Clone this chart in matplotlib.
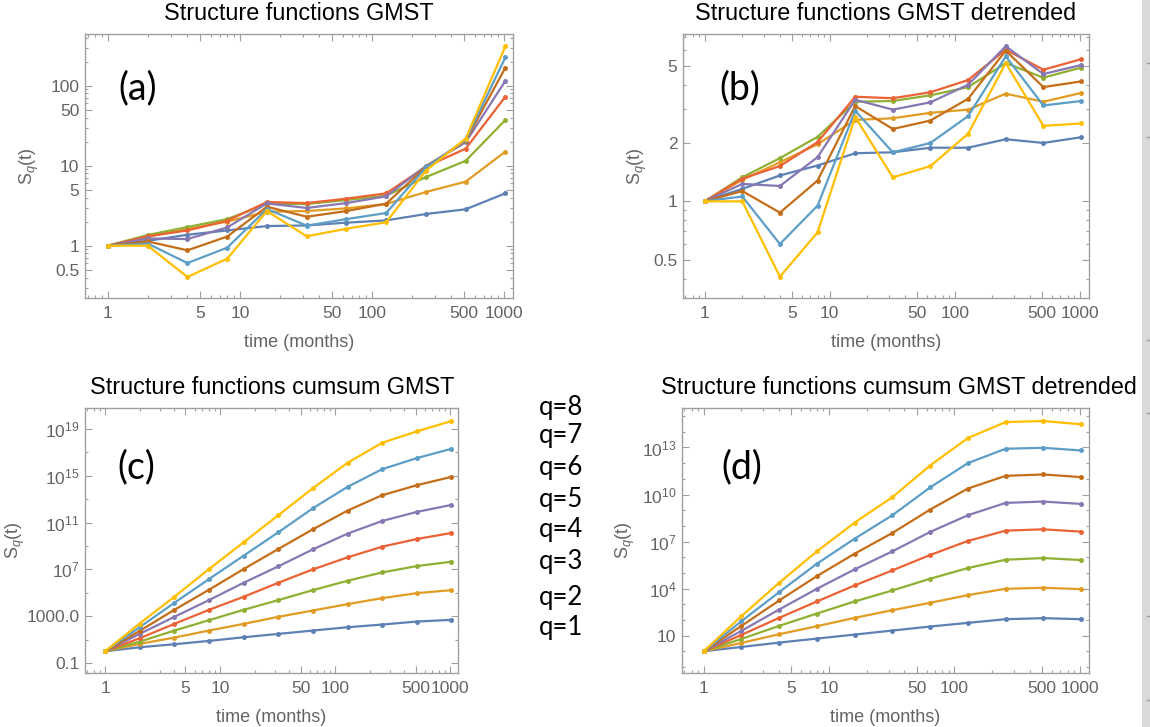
import matplotlib
matplotlib.use("Agg")
import matplotlib.pyplot as plt
import numpy as np
from matplotlib.ticker import FixedLocator, NullFormatter
from matplotlib.patches import Rectangle
from matplotlib.lines import Line2D

plt.rcParams['font.family'] = ['Liberation Sans', 'DejaVu Sans']
plt.rcParams['mathtext.fontset'] = 'custom'
plt.rcParams['mathtext.rm'] = 'Liberation Sans'
plt.rcParams['mathtext.it'] = 'Liberation Sans:italic'

# ---------------- data ----------------
time_months = [1, 2, 4, 8, 16, 32, 64, 128, 256, 512, 1024]
q_labels = ["q=1", "q=2", "q=3", "q=4", "q=5", "q=6", "q=7", "q=8"]
colors = ["#5E81B5", "#E19C24", "#8FB032", "#EB6235",
          "#8778B3", "#C56E1A", "#5D9EC7", "#FFBF00"]

# (a) Structure functions GMST
sf_gmst = [
    [1, 1.15, 1.37, 1.55, 1.76, 1.79, 1.94, 2.07, 2.49, 2.85, 4.51],
    [1, 1.30, 1.61, 2.00, 2.66, 2.71, 2.93, 3.32, 4.69, 6.31, 15.0],
    [1, 1.36, 1.71, 2.15, 3.32, 3.32, 3.72, 4.22, 7.2, 11.5, 37.2],
    [1, 1.31, 1.55, 2.05, 3.51, 3.41, 3.87, 4.51, 9.7, 16.3, 72.9],
    [1, 1.23, 1.21, 1.69, 3.38, 2.96, 3.41, 4.14, 9.9, 19.6, 115],
    [1, 1.13, 0.875, 1.30, 3.07, 2.30, 2.71, 3.35, 9.7, 20.5, 168],
    [1, 1.06, 0.607, 0.944, 2.87, 1.78, 2.15, 2.56, 9.5, 20.9, 226],
    [1, 1.00, 0.406, 0.688, 2.71, 1.31, 1.63, 1.96, 8.66, 21.8, 310],
]
# (b) Structure functions GMST detrended
sf_gmst_detr = [
    [1, 1.16, 1.36, 1.53, 1.77, 1.79, 1.89, 1.89, 2.09, 2.00, 2.14],
    [1, 1.29, 1.59, 1.97, 2.63, 2.68, 2.86, 2.97, 3.59, 3.26, 3.62],
    [1, 1.33, 1.67, 2.15, 3.26, 3.29, 3.52, 3.88, 5.16, 4.34, 4.89],
    [1, 1.31, 1.52, 2.02, 3.46, 3.40, 3.65, 4.22, 6.05, 4.77, 5.40],
    [1, 1.23, 1.20, 1.69, 3.34, 2.97, 3.24, 3.99, 6.3, 4.53, 5.04],
    [1, 1.13, 0.875, 1.28, 3.10, 2.36, 2.61, 3.38, 5.98, 3.88, 4.15],
    [1, 1.06, 0.603, 0.95, 2.93, 1.79, 2.00, 2.75, 5.59, 3.12, 3.29],
    [1, 1.00, 0.409, 0.692, 2.72, 1.33, 1.52, 2.23, 5.16, 2.45, 2.52],
]
# (c) Structure functions cumsum GMST
sf_cumsum = [
    [1, 2.2, 4.0, 7.7, 15.8, 30.6, 59, 114, 193, 349, 485],
    [1, 4.3, 14.8, 59, 220, 877, 3.06e3, 1.07e4, 3.49e4, 9.35e4, 1.69e5],
    [1, 6.7, 59, 454, 3.49e3, 2.35e4, 1.69e5, 1.07e6, 5.53e6, 1.93e7, 4.54e7],
    [1, 13.0, 220, 3.49e3, 4.54e4, 7.19e5, 1.0e7, 1.07e8, 8.77e8, 3.98e9, 1.30e10],
    [1, 30.6, 877, 2.35e4, 7.19e5, 1.81e7, 5.18e8, 1.14e10, 1.39e11, 8.20e11, 3.27e12],
    [1, 55, 3.49e3, 1.81e5, 1.07e7, 5.53e8, 2.69e10, 1.07e12, 2.20e13, 1.58e14, 8.20e14],
    [1, 114, 1.39e4, 1.48e6, 1.48e8, 1.48e10, 1.69e12, 1.14e14, 3.72e15, 3.27e16, 2.06e17],
    [1, 235, 4.54e4, 1.07e7, 2.06e9, 4.26e11, 8.77e13, 1.30e16, 6.75e17, 6.31e18, 4.85e19],
]
# (d) Structure functions cumsum GMST detrended
sf_cumsum_detr = [
    [1, 1.88, 3.56, 6.43, 11.6, 20.9, 37.7, 64.6, 111, 129, 111],
    [1, 3.40, 12.2, 39.5, 135, 417, 1.23e3, 3.80e3, 9.66e3, 1.12e4, 9.20e3],
    [1, 6.12, 41.5, 255, 1.50e3, 7.55e3, 4.22e4, 2.03e5, 6.92e5, 8.85e5, 6.59e5],
    [1, 11.0, 135, 1.50e3, 1.58e4, 1.44e5, 1.38e6, 1.08e7, 4.95e7, 6.03e7, 4.28e7],
    [1, 20.0, 460, 9.66e3, 1.67e5, 2.36e6, 4.07e7, 4.74e8, 2.92e9, 3.55e9, 2.51e9],
    [1, 41.5, 1.73e3, 6.24e4, 1.67e6, 3.52e7, 1.09e9, 2.40e10, 1.55e11, 1.91e11, 1.29e11],
    [1, 82.6, 5.92e3, 3.84e5, 1.52e7, 4.74e8, 2.82e10, 1.0e12, 8.32e12, 9.55e12, 6.46e12],
    [1, 173, 2.34e4, 2.36e6, 1.61e8, 6.71e9, 7.08e11, 3.98e13, 4.17e14, 4.90e14, 3.02e14],
]

x_ticks = [1, 5, 10, 50, 100, 500, 1000]
x_ticklabels = ["1", "5", "10", "50", "100", "500", "1000"]

titles = ["Structure functions GMST", "Structure functions GMST detrended",
          "Structure functions cumsum GMST", "Structure functions cumsum GMST detrended"]
panel_tags = ["(a)", "(b)", "(c)", "(d)"]

ya_ticks = [0.5, 1, 5, 10, 50, 100]
ya_labels = ["0.5", "1", "5", "10", "50", "100"]
yb_ticks = [0.5, 1, 2, 5]
yb_labels = ["0.5", "1", "2", "5"]
yc_ticks = [0.1, 1000.0, 1e7, 1e11, 1e15, 1e19]
yc_labels = ["0.1", "1000.0", r"$\mathregular{10^{7}}$", r"$\mathregular{10^{11}}$",
             r"$\mathregular{10^{15}}$", r"$\mathregular{10^{19}}$"]
yd_ticks = [10, 1e4, 1e7, 1e10, 1e13]
yd_labels = ["10", r"$\mathregular{10^{4}}$", r"$\mathregular{10^{7}}$",
             r"$\mathregular{10^{10}}$", r"$\mathregular{10^{13}}$"]

# ---------------- figure ----------------
W, H = 1150, 727
fig = plt.figure(figsize=(W / 100, H / 100), dpi=100)

FRAME = "#a0a0a0"
TXT = "#646464"


def px_axes(x0, x1, y0, y1):
    return fig.add_axes([x0 / W, 1 - y1 / H, (x1 - x0) / W, (y1 - y0) / H])


def x_minor():
    m = []
    for d in [0.1, 1, 10, 100, 1000]:
        for k in range(2, 10):
            m.append(k * d)
    return m


def style(ax, xlim_log, ylim_log, yt, ytl, yminor):
    ax.set_xscale("log")
    ax.set_yscale("log")
    ax.set_xlim(10 ** xlim_log[0], 10 ** xlim_log[1])
    ax.set_ylim(10 ** ylim_log[0], 10 ** ylim_log[1])
    ax.xaxis.set_major_locator(FixedLocator(x_ticks))
    ax.set_xticklabels(x_ticklabels)
    ax.xaxis.set_minor_locator(FixedLocator(x_minor()))
    ax.xaxis.set_minor_formatter(NullFormatter())
    ax.yaxis.set_major_locator(FixedLocator(yt))
    ax.set_yticklabels(ytl)
    ax.yaxis.set_minor_locator(FixedLocator(yminor))
    ax.yaxis.set_minor_formatter(NullFormatter())
    ax.tick_params(which="both", direction="in", top=True, right=True,
                   color=FRAME, labelcolor=TXT, labelsize=12.5, width=0.8)
    ax.tick_params(which="major", length=5, pad=4)
    ax.tick_params(axis="x", which="major", pad=6)
    ax.tick_params(which="minor", length=2.5)
    for s in ax.spines.values():
        s.set_color(FRAME)
        s.set_linewidth(1.0)
    ax.set_xlabel("time (months)", color=TXT, fontsize=13, labelpad=9)


def draw(ax, data):
    for i, row in enumerate(data):
        ax.plot(time_months, row, color=colors[i], lw=1.6, marker="o", ms=3.6,
                markeredgewidth=0, zorder=2 + i, clip_on=False)


# minor y ticks
ya_minor = [k * d for d in [0.1, 1, 10, 100] for k in range(2, 10)]
yb_minor = [0.4, 0.6, 0.7, 0.8, 0.9, 3, 4, 6, 7]
yc_minor = [10.0 ** e for e in range(-2, 22) if e % 2 == 1 and e not in (-1, 3, 7, 11, 15, 19)]
yd_minor = [10.0 ** e for e in range(-2, 17) if e not in (1, 4, 7, 10, 13)]

frames = [(85, 513, 34, 298), (683, 1089, 34, 298), (85, 458, 408, 673), (682, 1089, 408, 673)]

axa = px_axes(*frames[0])
draw(axa, sf_gmst)
style(axa, (-0.174, 3.068), (-0.654, 2.646), ya_ticks, ya_labels, ya_minor)

axb = px_axes(*frames[1])
draw(axb, sf_gmst_detr)
style(axb, (-0.173, 3.074), (-0.498, 0.8625), yb_ticks, yb_labels, yb_minor)

axc = px_axes(*frames[2])
draw(axc, sf_cumsum)
style(axc, (-0.174, 3.067), (-1.857, 20.8), yc_ticks, yc_labels, yc_minor)

axd = px_axes(*frames[3])
draw(axd, sf_cumsum_detr)
style(axd, (-0.173, 3.074), (-1.388, 15.52), yd_ticks, yd_labels, yd_minor)

title_specs = [(299, 13, "center"), (886, 13, "center"), (272, 388, "center"), (661, 388, "left")]
tag_pos = [(138, 88), (740, 88), (136, 467), (742, 467)]
ylabel_x = [29, 637, 15, 625]

for fr, t, (tx, ty, ha), tag, (gx, gy), ylx in zip(frames, titles, title_specs, panel_tags, tag_pos, ylabel_x):
    fig.text(tx / W, 1 - ty / H, t, ha=ha, va="center", fontsize=16.8, color="black")
    fig.text(gx / W, 1 - gy / H, tag, ha="center", va="center", fontsize=27,
             family=["Lato", "DejaVu Sans"], color="black")
    yc = (fr[2] + fr[3]) / 2
    fig.text(ylx / W, 1 - yc / H, r"$\mathregular{S}_{q}\mathregular{(t)}$", rotation=90,
             ha="center", va="center", fontsize=13, color=TXT)

# q labels beside panel (c)
q_label_y = [628, 597, 562, 530, 500, 468, 435, 408]
for lab, yy in zip(q_labels, q_label_y):
    fig.text(561 / W, 1 - yy / H, lab, ha="center", va="center", fontsize=18.5,
             family=["Lato", "DejaVu Sans"], color="black")

# gray strip on the right edge
fig.patches.append(Rectangle((1142 / W, 0), 8 / W, 1, transform=fig.transFigure,
                             facecolor="#d9d9d9", edgecolor="none", zorder=20))
for yy in [63, 137, 340, 413, 616, 700]:
    fig.lines.append(Line2D([1147 / W, 1150 / W], [1 - yy / H, 1 - yy / H],
                            transform=fig.transFigure, color="#9a9a9a", lw=1, zorder=21))

fig.savefig("out.png", dpi=100)
